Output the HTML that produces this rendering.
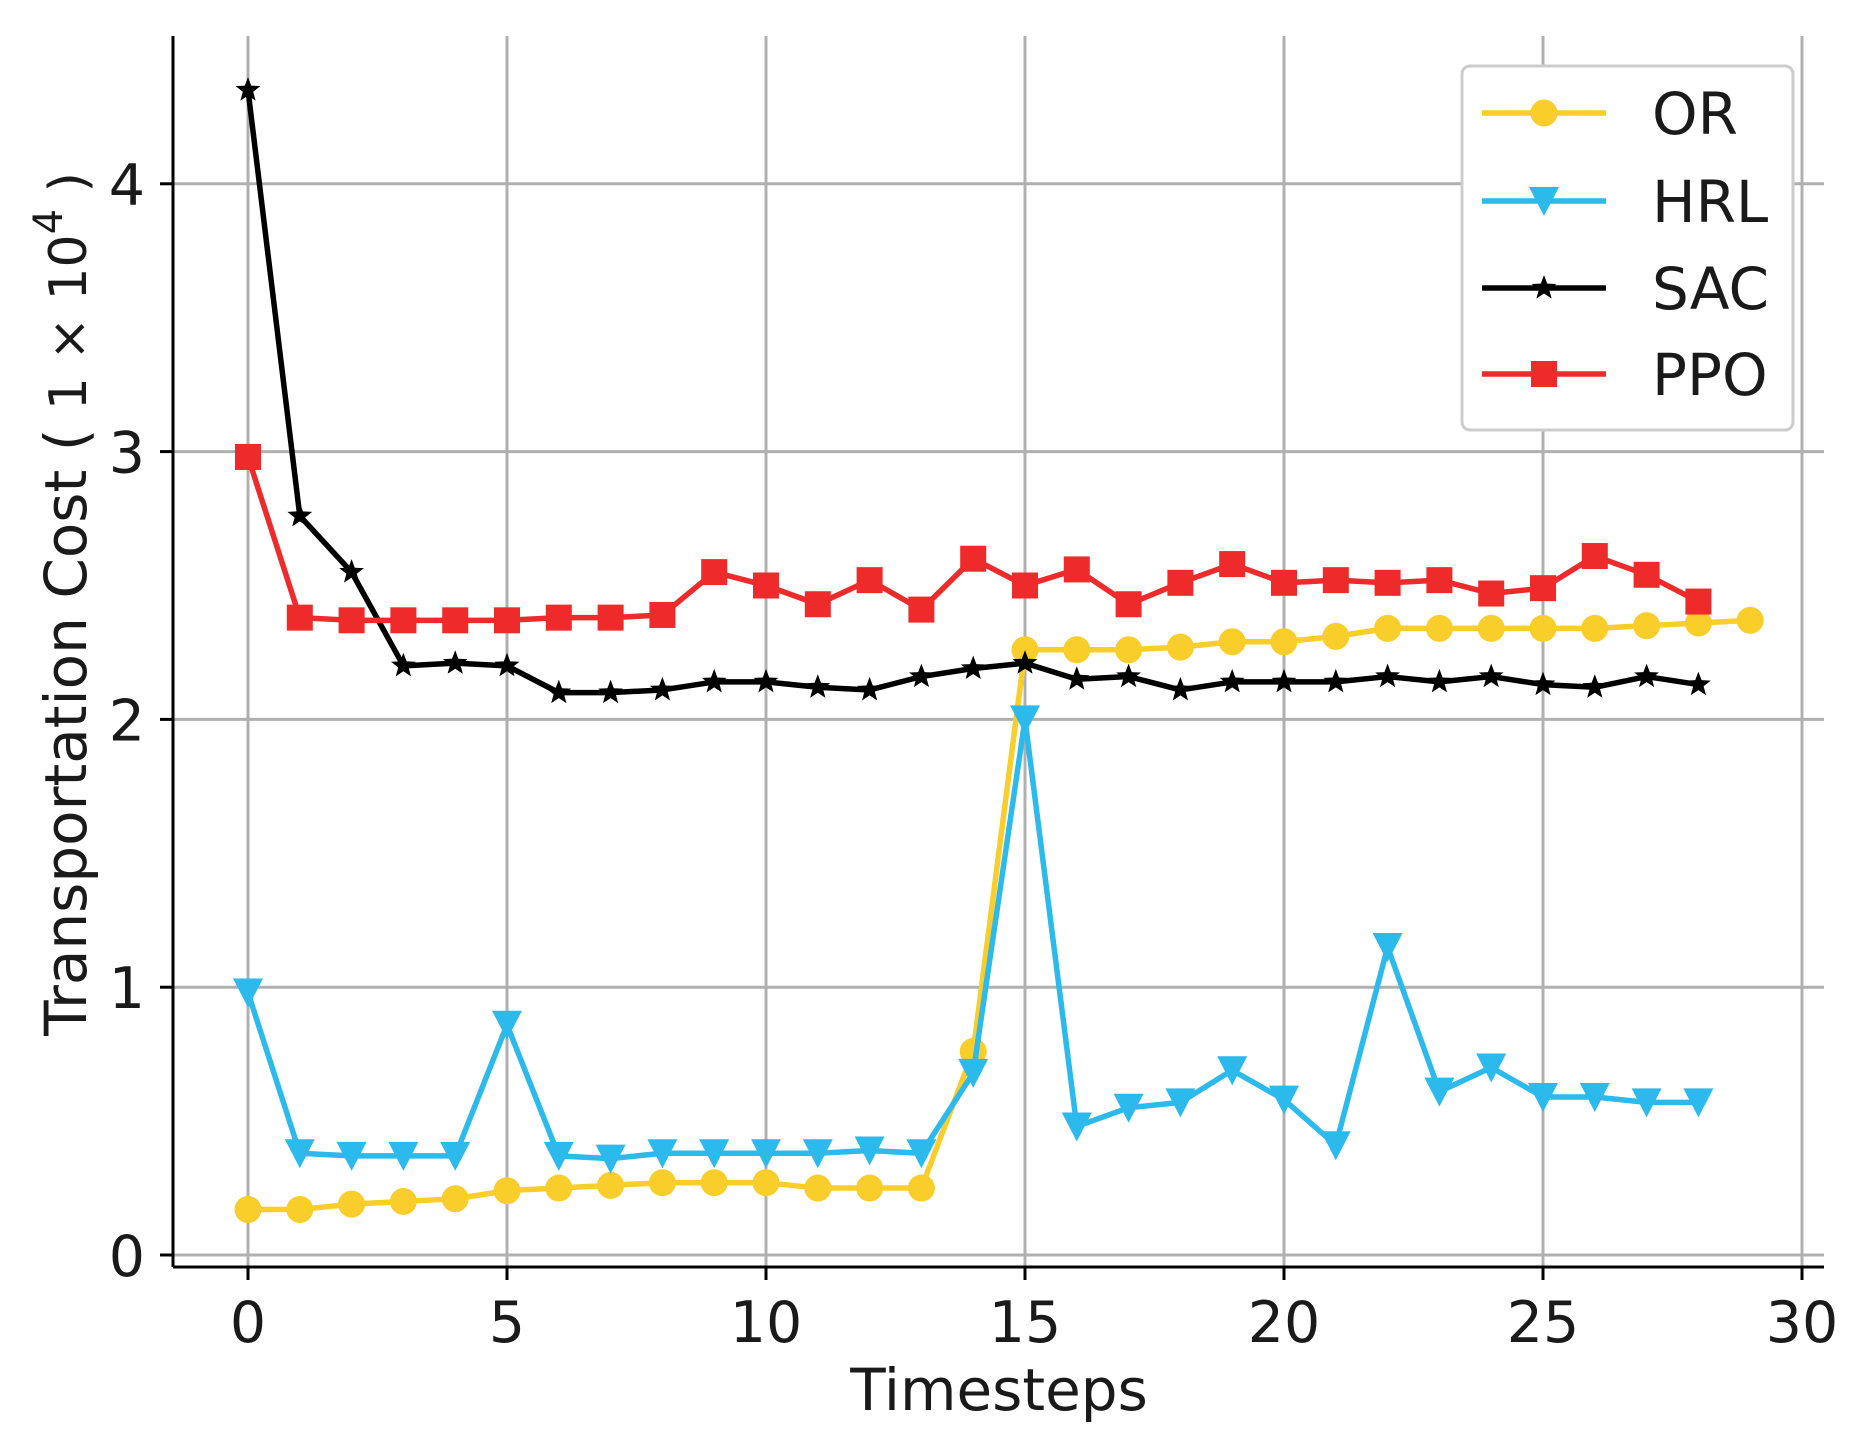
<!DOCTYPE html>
<html><head><meta charset="utf-8"><style>
html,body{margin:0;padding:0;background:#fff;}
svg{display:block;font-family:"DejaVu Sans","Liberation Sans",sans-serif;}
</style></head><body>
<svg id="c" xmlns="http://www.w3.org/2000/svg" width="1874" height="1449" viewBox="0 0 1874 1449">
<rect width="1874" height="1449" fill="#fff"/>
<g id="grid" stroke="#b0b0b0" stroke-width="3"></g>
<g id="series"></g>
<line x1="173" y1="36" x2="173" y2="1267" stroke="#000" stroke-width="3"/>
<line x1="173" y1="1267" x2="1824" y2="1267" stroke="#000" stroke-width="3"/>
<g id="ticks" stroke="#000" stroke-width="3"></g>
<g id="labels" font-size="57" fill="#1a1a1a"></g>
<text x="999" y="1410" font-size="58" text-anchor="middle" fill="#1a1a1a">Timesteps</text>
<text transform="translate(86,604) rotate(-90)" font-size="58" text-anchor="middle" fill="#1a1a1a">Transportation Cost ( <tspan font-size="52">1 × 10</tspan><tspan font-size="40" dy="-24">4</tspan><tspan dy="24" font-size="52"> )</tspan></text>
<g id="legend">
<rect x="1462" y="66" width="331" height="364" rx="8" fill="#fff" stroke="#cccccc" stroke-width="3"/>
</g>
</svg>
<script>
const NS="http://www.w3.org/2000/svg";
const X=t=>248+51.8*t, Y=v=>1255-267.8*v;
function el(p,tag,a,txt){const e=document.createElementNS(NS,tag);for(const k in a)e.setAttribute(k,a[k]);if(txt!==undefined)e.textContent=txt;document.getElementById(p).appendChild(e);return e;}
for(let t=0;t<=30;t+=5){el('grid','line',{x1:X(t),y1:36,x2:X(t),y2:1267});el('ticks','line',{x1:X(t),y1:1267,x2:X(t),y2:1280});
el('labels','text',{x:X(t),y:1342,'text-anchor':'middle'},String(t));}
for(let v=0;v<=4;v++){el('grid','line',{x1:173,y1:Y(v),x2:1824,y2:Y(v)});el('ticks','line',{x1:160,y1:Y(v),x2:173,y2:Y(v)});
el('labels','text',{x:145,y:Y(v)+21,'text-anchor':'end'},String(v));}
const OR=[0.17,0.17,0.19,0.2,0.21,0.24,0.25,0.26,0.27,0.27,0.27,0.25,0.25,0.25,0.76,2.26,2.26,2.26,2.27,2.29,2.29,2.31,2.34,2.34,2.34,2.34,2.34,2.35,2.36,2.37];
const HRL=[0.98,0.38,0.37,0.37,0.37,0.86,0.37,0.36,0.38,0.38,0.38,0.38,0.39,0.38,0.68,2.0,0.48,0.55,0.57,0.69,0.58,0.41,1.15,0.61,0.70,0.59,0.59,0.57,0.57];
const SAC=[4.35,2.76,2.55,2.2,2.21,2.2,2.1,2.1,2.11,2.14,2.14,2.12,2.11,2.16,2.19,2.21,2.15,2.16,2.11,2.14,2.14,2.14,2.16,2.14,2.16,2.13,2.12,2.16,2.13];
const PPO=[2.98,2.38,2.37,2.37,2.37,2.37,2.38,2.38,2.39,2.55,2.5,2.43,2.52,2.41,2.6,2.5,2.56,2.43,2.51,2.58,2.51,2.52,2.51,2.52,2.47,2.49,2.61,2.54,2.44];
function marker(g,type,x,y,c){
 if(type==='o')el(g,'circle',{cx:x,cy:y,r:13.5,fill:c});
 else if(type==='v')el(g,'polygon',{points:`${x-15},${y-14} ${x+15},${y-14} ${x},${y+15}`,fill:c});
 else if(type==='s')el(g,'rect',{x:x-13,y:y-13,width:26,height:26,fill:c});
 else {let p=[];for(let i=0;i<10;i++){const r=i%2?5.5:13,a=-Math.PI/2+i*Math.PI/5;p.push((x+r*Math.cos(a)).toFixed(1)+','+(y+r*Math.sin(a)).toFixed(1));}
  el(g,'polygon',{points:p.join(' '),fill:c});}
}
function series(d,c,m){
 el('series','polyline',{points:d.map((v,i)=>X(i)+','+Y(v)).join(' '),fill:'none',stroke:c,'stroke-width':5.5,'stroke-linejoin':'round'});
 d.forEach((v,i)=>marker('series',m,X(i),Y(v),c));
}
series(OR,'#f9cd2a','o');series(HRL,'#2bbaeb','v');series(SAC,'#000','*');series(PPO,'#ee2a2a','s');
const L=[['OR','#f9cd2a','o',113],['HRL','#2bbaeb','v',201],['SAC','#000','*',288],['PPO','#ee2a2a','s',374]];
L.forEach(([n,c,m,y])=>{el('legend','line',{x1:1482,y1:y,x2:1606,y2:y,stroke:c,'stroke-width':5.5});marker('legend',m,1544,y,c);
el('legend','text',{x:1652,y:y+21,'font-size':58,fill:'#1a1a1a'},n);});
</script>
</body></html>
